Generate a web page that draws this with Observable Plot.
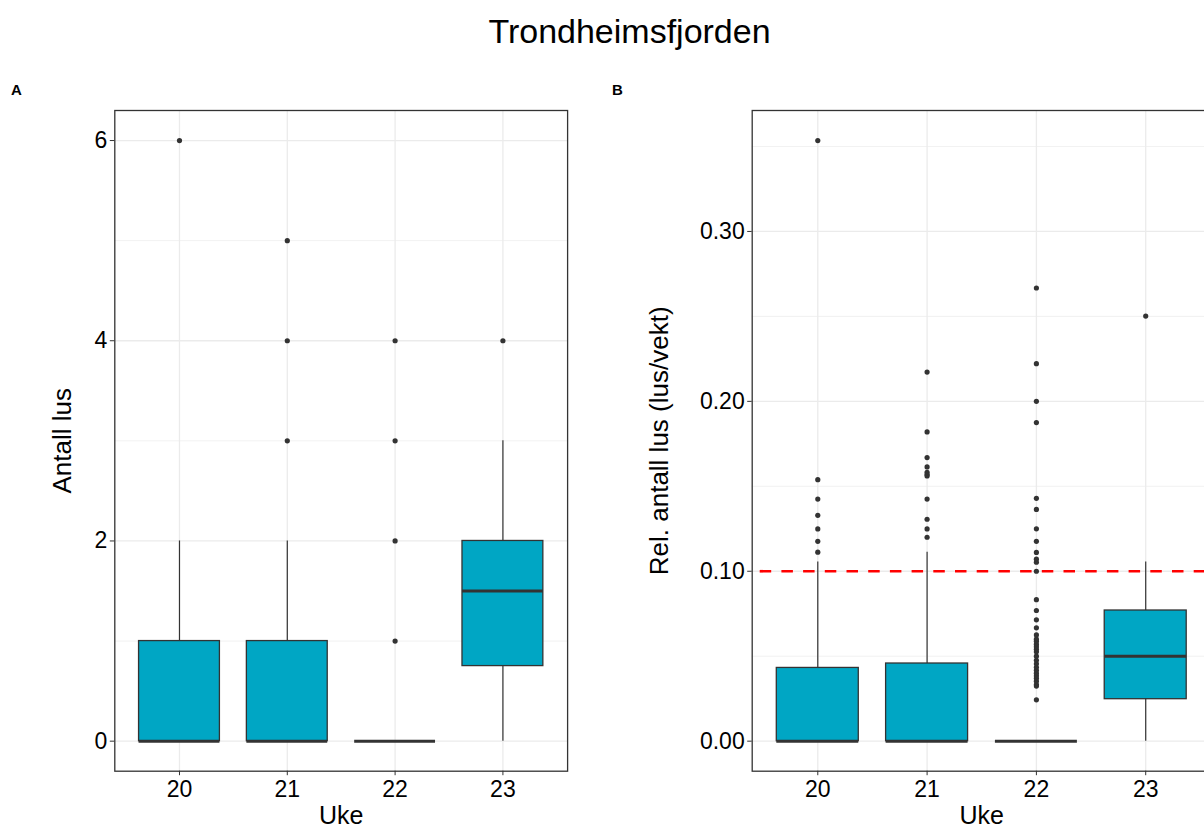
<!DOCTYPE html>
<html>
<head>
<meta charset="utf-8">
<script src="https://cdn.jsdelivr.net/npm/d3@7"></script>
<script src="https://cdn.jsdelivr.net/npm/@observablehq/plot@0.6"></script>
<style>
  html, body { margin: 0; padding: 0; background: white; }
  #wrap { position: relative; width: 1204px; height: 830px; overflow: hidden; background: white;
          font-family: "Liberation Sans", Arial, sans-serif; }
  #panelA, #panelB { position: absolute; top: 0; height: 830px; }
  #panelA { left: 0; width: 600px; }
  #panelB { left: 600px; width: 640px; }
  #panelA svg, #panelB svg { max-width: none !important; display: block; }
  .lbl { position: absolute; font-weight: bold; font-size: 15px; line-height: 1; color: black; z-index: 5; }
  #title { position: absolute; left: 0; width: 1259px; top: 14px; text-align: center; font-size: 34px;
           line-height: 1; color: black; z-index: 5; }
</style>
</head>
<body>
<div id="wrap">
  <div id="panelA"></div>
  <div id="panelB"></div>
  <div id="title">Trondheimsfjorden</div>
  <div class="lbl" style="left:11px; top:82px;">A</div>
  <div class="lbl" style="left:612px; top:82px;">B</div>
</div>
<script>
// ---- categories ----
const weeks = ["20", "21", "22", "23"];

// ---- Panel A: Antall lus (box statistics per week) ----
const countLow    = [0, 0, 0, 0];
const countQ1     = [0, 0, 0, 0.75];
const countMedian = [0, 0, 0, 1.5];
const countQ3     = [1, 1, 0, 2];
const countHigh   = [2, 2, 0, 3];
const countOutliers = [[6], [3, 4, 5], [1, 2, 3, 4], [4]];
const countMajorTicks = [0, 2, 4, 6];
const countMinorTicks = [1, 3, 5];

// ---- Panel B: Rel. antall lus (lus/vekt) ----
const relLow    = [0, 0, 0, 0];
const relQ1     = [0, 0, 0, 0.0247];
const relMedian = [0, 0, 0, 0.05];
const relQ3     = [0.0431, 0.0457, 0, 0.0769];
const relHigh   = [0.1055, 0.1112, 0, 0.1055];
const relOutliers20 = [0.1112, 0.1176, 0.1249, 0.1329, 0.1425, 0.1539, 0.3535];
const relOutliers21 = [0.1200, 0.1249, 0.1306, 0.1425, 0.1561, 0.1569, 0.1582, 0.1614, 0.1669, 0.1820, 0.2172];
const relOutliers22 = [0.0243, 0.0324, 0.0333, 0.0353, 0.0370, 0.0385, 0.0400, 0.0417, 0.0435, 0.0455,
                       0.0476, 0.0500, 0.0526, 0.0541, 0.0556, 0.0571, 0.0588, 0.0600, 0.0625, 0.0667,
                       0.0714, 0.0769, 0.0833, 0.1000, 0.1053, 0.1071, 0.1111, 0.1176, 0.1250, 0.1364,
                       0.1429, 0.1875, 0.2000, 0.2222, 0.2667];
const relOutliers23 = [0.2502];
const relOutliers = [relOutliers20, relOutliers21, relOutliers22, relOutliers23];
const relMajorTicks = [0, 0.1, 0.2, 0.3];
const relMinorTicks = [0.05, 0.15, 0.25, 0.35];
const threshold = [0.1];

function buildStats(low, q1, med, q3, high) {
  return weeks.map((w, i) => ({week: w, low: low[i], q1: q1[i], median: med[i], q3: q3[i], high: high[i]}));
}
function buildOutliers(outs) {
  return weeks.flatMap((w, i) => outs[i].map(v => ({week: w, value: v})));
}

const GRID = "#ebebeb", DARK = "#333333", FILL = "#00A6C4";
const FONT = "'Liberation Sans', Arial, sans-serif";

function panel({width, marginLeft, marginRight, yDomain, major, minor, tickFormat, stats, outliers, yTitle, yTitleDx, hline}) {
  return Plot.plot({
    width, height: 830,
    marginLeft, marginRight, marginTop: 110, marginBottom: 59.3,
    style: {fontFamily: FONT, background: "white", color: "black", overflow: "visible", maxWidth: "none"},
    x: {type: "band", domain: weeks, paddingInner: 0.25, paddingOuter: 0.225, round: false, axis: null},
    y: {domain: yDomain, axis: null},
    marks: [
      Plot.gridY({ticks: minor, stroke: GRID, strokeOpacity: 1, strokeWidth: 0.7}),
      Plot.gridY({ticks: major, stroke: GRID, strokeOpacity: 1, strokeWidth: 1.3}),
      Plot.gridX({ticks: weeks, stroke: GRID, strokeOpacity: 1, strokeWidth: 1.3}),
      Plot.ruleX(stats, {x: "week", y1: "low", y2: "high", stroke: DARK, strokeWidth: 1.2}),
      Plot.barY(stats, {x: "week", y1: "q1", y2: "q3", fill: FILL, stroke: DARK, strokeWidth: 1.3}),
      Plot.tickY(stats, {x: "week", y: "median", stroke: DARK, strokeWidth: 3}),
      hline ? Plot.ruleY(hline, {stroke: "#ff0000", strokeWidth: 2.7, strokeDasharray: "11.5,10.2", strokeDashoffset: 13.7}) : null,
      Plot.dot(outliers, {x: "week", y: "value", r: 2.6, fill: DARK, stroke: "none"}),
      Plot.frame({stroke: DARK, strokeWidth: 1.3}),
      Plot.axisY({ticks: major, tickSize: 4.5, tickPadding: 3, fontSize: 23, stroke: DARK, fill: "black", label: null, tickFormat}),
      Plot.axisX({tickSize: 4.5, tickPadding: 5, fontSize: 23, stroke: DARK, fill: "black", label: null}),
      Plot.text(["Uke"], {text: d => d, frameAnchor: "bottom", textAnchor: "middle", lineAnchor: "bottom", dy: 53, fontSize: 25, fill: "black"}),
      Plot.text([yTitle], {text: d => d, frameAnchor: "left", textAnchor: "middle", lineAnchor: "bottom", rotate: -90, dx: yTitleDx, fontSize: 26, fill: "black"})
    ]
  });
}

document.getElementById("panelA").appendChild(panel({
  width: 600, marginLeft: 114.3, marginRight: 32.9,
  yDomain: [-0.3, 6.3], major: countMajorTicks, minor: countMinorTicks, tickFormat: d3.format("d"),
  stats: buildStats(countLow, countQ1, countMedian, countQ3, countHigh),
  outliers: buildOutliers(countOutliers),
  yTitle: "Antall lus", yTitleDx: -44.3, hline: null
}));

document.getElementById("panelB").appendChild(panel({
  width: 640, marginLeft: 151.7, marginRight: 29.2,
  yDomain: [-0.01768, 0.37118], major: relMajorTicks, minor: relMinorTicks, tickFormat: d3.format(".2f"),
  stats: buildStats(relLow, relQ1, relMedian, relQ3, relHigh),
  outliers: buildOutliers(relOutliers),
  yTitle: "Rel. antall lus (lus/vekt)", yTitleDx: -84.7, hline: threshold
}));
</script>
</body>
</html>
